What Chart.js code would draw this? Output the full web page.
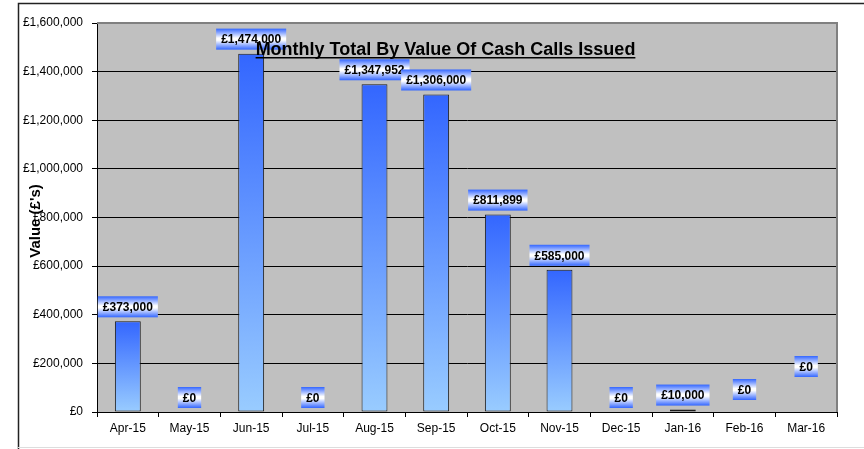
<!DOCTYPE html>
<html>
<head>
<meta charset="utf-8">
<script src="https://cdn.jsdelivr.net/npm/chart.js@4"></script>
<style>
  html, body { margin: 0; padding: 0; background: #fff; }
  #wrap { width: 864px; height: 449px; }
</style>
</head>
<body>
<div id="wrap"><canvas id="chart" width="864" height="449"></canvas></div>
<script>
const months = ["Apr-15", "May-15", "Jun-15", "Jul-15", "Aug-15", "Sep-15",
  "Oct-15", "Nov-15", "Dec-15", "Jan-16", "Feb-16", "Mar-16"];
const cashCalls = [373000, 0, 1474000, 0, 1347952, 1306000,
  811899, 585000, 0, 10000, 0, 0];
const yTicks = [0, 200000, 400000, 600000, 800000, 1000000, 1200000, 1400000, 1600000];
const chartTitle = "Monthly Total By Value Of Cash Calls Issued";
const yTitle = "Value (£'s)";

// extra lift (px) for a couple of labels that sit higher in the original
const labelLift = [0, 0, 0, 0, 0, 0, 0, 0, 0, 0, 8, 31];

const FONT = "Arial, 'Liberation Sans', sans-serif";
Chart.defaults.font.family = FONT;
Chart.defaults.font.size = 12;
Chart.defaults.color = "#000";

function money(v) {
  return "£" + v.toLocaleString("en-GB");
}

const decorations = {
  id: "decorations",
  beforeDraw(chart) {
    const c = chart.ctx;
    const a = chart.chartArea;
    c.save();
    // outer frame
    c.fillStyle = "#fff";
    c.fillRect(0, 0, chart.width, chart.height);
    c.strokeStyle = "#222";
    c.lineWidth = 1.5;
    c.beginPath();
    c.moveTo(18.5, chart.height);
    c.lineTo(18.5, 3.5);
    c.lineTo(chart.width, 3.5);
    c.stroke();
    c.strokeStyle = "#ddd";
    c.lineWidth = 1;
    c.beginPath();
    c.moveTo(18, 447.5);
    c.lineTo(chart.width, 447.5);
    c.stroke();
    // plot background
    c.fillStyle = "#c0c0c0";
    c.fillRect(a.left, a.top, a.right - a.left, a.bottom - a.top);
    c.restore();
  },
  beforeDatasetsDraw(chart) {
    const c = chart.ctx;
    const a = chart.chartArea;
    c.save();
    c.strokeStyle = "#808080";
    c.lineWidth = 2;
    c.beginPath();
    c.moveTo(a.left, a.top);
    c.lineTo(a.right, a.top);
    c.lineTo(a.right, a.bottom);
    c.stroke();
    c.restore();
  },
  afterDatasetsDraw(chart) {
    const c = chart.ctx;
    const meta = chart.getDatasetMeta(0);
    c.save();
    c.font = "bold 12px " + FONT;
    c.textAlign = "center";
    c.textBaseline = "middle";
    meta.data.forEach(function (bar, i) {
      const text = money(cashCalls[i]);
      const w = c.measureText(text).width + 10;
      const h = 21;
      const bottom = bar.y - 4 - labelLift[i];
      const top = bottom - h;
      const left = bar.x - w / 2;
      const g = c.createLinearGradient(0, top, 0, bottom);
      g.addColorStop(0, "#3366ff");
      g.addColorStop(0.45, "#ffffff");
      g.addColorStop(0.55, "#ffffff");
      g.addColorStop(1, "#3366ff");
      c.fillStyle = g;
      c.fillRect(left, top, w, h);
      c.fillStyle = "#000";
      c.fillText(text, bar.x, top + h / 2 + 1);
    });
    c.restore();
  },
  afterDraw(chart) {
    const c = chart.ctx;
    c.save();
    // chart title (overlaps the plot as in the original)
    c.font = "bold 18px " + FONT;
    c.fillStyle = "#000";
    c.textAlign = "center";
    c.textBaseline = "alphabetic";
    const tx = 445.5;
    c.fillText(chartTitle, tx, 55);
    const tw = c.measureText(chartTitle).width;
    c.fillRect(tx - tw / 2, 57, tw, 1.5);
    // y axis title
    c.font = "bold 15px " + FONT;
    c.translate(36, 221);
    c.rotate(-Math.PI / 2);
    c.textBaseline = "middle";
    c.fillText(yTitle, 0, 0);
    c.restore();
  }
};

const ctx = document.getElementById("chart").getContext("2d");

new Chart(ctx, {
  type: "bar",
  data: {
    labels: months,
    datasets: [
      {
        label: "Value",
        data: cashCalls,
        backgroundColor: function (context) {
          const chart = context.chart;
          if (!chart.chartArea || context.type !== "data") return "#3366ff";
          const y = chart.scales.y;
          const top = y.getPixelForValue(context.parsed.y);
          const base = y.getPixelForValue(0);
          if (base - top < 2) return "#3366ff";
          const g = chart.ctx.createLinearGradient(0, top, 0, base);
          g.addColorStop(0, "#3366ff");
          g.addColorStop(1, "#99ccff");
          return g;
        },
        borderColor: "#1a1a1a",
        borderWidth: 1,
        borderSkipped: false,
        categoryPercentage: 1,
        barPercentage: 0.42,
      },
    ],
  },
  options: {
    responsive: false,
    animation: false,
    layout: { padding: { left: 0, right: 27, top: 23, bottom: 0 } },
    plugins: {
      legend: { display: false },
      title: { display: false },
      tooltip: { enabled: false },
    },
    scales: {
      x: {
        grid: {
          drawOnChartArea: false,
          drawTicks: true,
          tickLength: 5,
          color: "#000",
        },
        border: { color: "#000", width: 1 },
        ticks: { padding: 4, maxRotation: 0, autoSkip: false, font: { size: 12 } },
        afterFit(scale) {
          scale.height = 37;
        },
      },
      y: {
        min: 0,
        max: 1600000,
        afterBuildTicks(scale) {
          scale.ticks = yTicks.map((v) => ({ value: v }));
        },
        grid: { color: "#000", tickLength: 5, lineWidth: 1 },
        border: { color: "#000", width: 1 },
        ticks: {
          padding: 9,
          font: { size: 12 },
          callback: (v) => money(v),
        },
        afterFit(scale) {
          scale.width = 97;
        },
      },
    },
  },
  plugins: [decorations],
});
</script>
</body>
</html>
